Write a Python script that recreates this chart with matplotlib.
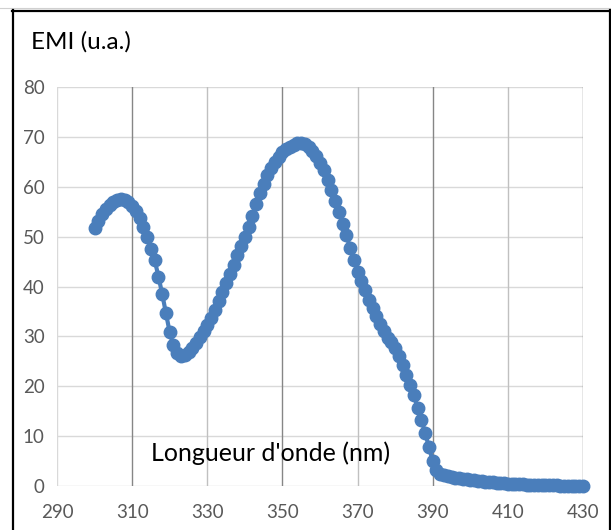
import matplotlib
matplotlib.use("Agg")
import matplotlib.pyplot as plt
from matplotlib.lines import Line2D

# emission spectrum, one reading per nm
wavelength = list(range(300, 431))
emi = [
    51.8, 53.2, 54.5, 55.5, 56.3, 56.9, 57.3, 57.5, 57.4, 56.9,   # 300-309
    56.2, 55.1, 53.7, 52.0, 49.9, 47.6, 45.3, 42.0, 38.5, 34.6,   # 310-319
    30.8, 28.2, 26.6, 26.1, 26.2, 26.9, 27.7, 28.7, 29.8, 31.0,   # 320-329
    32.3, 33.7, 35.2, 37.0, 38.8, 40.7, 42.6, 44.4, 46.3, 48.1,   # 330-339
    50.0, 51.9, 54.2, 56.6, 58.7, 60.6, 62.4, 63.8, 65.0, 66.0,   # 340-349
    66.9, 67.5, 68.0, 68.4, 68.7, 68.8, 68.5, 68.0, 67.2, 66.2,   # 350-359
    64.8, 63.3, 61.4, 59.3, 57.2, 55.0, 52.6, 50.3, 47.8, 45.3,   # 360-369
    43.0, 41.2, 39.2, 37.3, 35.6, 34.0, 32.5, 31.0, 29.6, 28.9,   # 370-379
    27.6, 26.0, 24.3, 22.2, 20.3, 18.2, 15.6, 13.3, 10.6, 7.8,    # 380-389
    5.0, 3.2, 2.5, 2.2, 2.0, 1.9, 1.7, 1.6, 1.5, 1.4,             # 390-399
    1.3, 1.2, 1.1, 1.0, 0.9, 0.8, 0.8, 0.7, 0.6, 0.6,             # 400-409
    0.5, 0.5, 0.4, 0.4, 0.4, 0.3, 0.3, 0.3, 0.3, 0.2,             # 410-419
    0.2, 0.2, 0.2, 0.2, 0.1, 0.1, 0.1, 0.1, 0.1, 0.1,             # 420-429
    0.1,                                                          # 430
]
xticks = [290, 310, 330, 350, 370, 390, 410, 430]
yticks = [0, 10, 20, 30, 40, 50, 60, 70, 80]

plt.rcParams['font.family'] = ['Lato', 'DejaVu Sans']

W, H = 611, 530
fig = plt.figure(figsize=(W / 100, H / 100), dpi=100)
ax = fig.add_axes([57 / W, 1 - 486 / H, 526 / W, 399 / H])

ax.set_xlim(290, 430)
ax.set_ylim(0, 80)
ax.set_xticks(xticks)
ax.set_yticks(yticks)
ax.tick_params(length=0, labelsize=13.5, labelcolor='#595959')
ax.tick_params(axis='x', pad=13)
ax.tick_params(axis='y', pad=9)
for s in ax.spines.values():
    s.set_visible(False)

# horizontal grid, light
for v in yticks:
    ax.axhline(v, color='#d9d9d9', lw=1, zorder=0)
# vertical grid, alternating shades
vcol = ['#d9d9d9', '#868686', '#c0c0c0', '#868686', '#c0c0c0', '#868686', '#c0c0c0', '#868686']
for v, c in zip(xticks, vcol):
    ax.axvline(v, color=c, lw=1, zorder=0)

ax.plot(wavelength, emi, '-o', color='#4a7ebb', lw=3, ms=9,
        clip_on=False, zorder=3)

fig.text(31 / W, 1 - 42 / H, 'EMI (u.a.)', fontsize=17.5, color='black',
         ha='left', va='center')
fig.text(151 / W, 1 - 453 / H, "Longueur d'onde (nm)", fontsize=18,
         color='black', ha='left', va='center')

# outer frame
def px_line(x0, y0, x1, y1, c='black', lw=1.6):
    fig.add_artist(Line2D([x0 / W, x1 / W], [1 - y0 / H, 1 - y1 / H],
                          color=c, lw=lw, transform=fig.transFigure))

px_line(0, 8, W, 8, c='#d0d0d0', lw=0.8)
px_line(12, 10.5, 609.5, 10.5)
px_line(12.5, 10, 12.5, H)
px_line(609.5, 10, 609.5, H)

fig.savefig('out.png', dpi=100)
